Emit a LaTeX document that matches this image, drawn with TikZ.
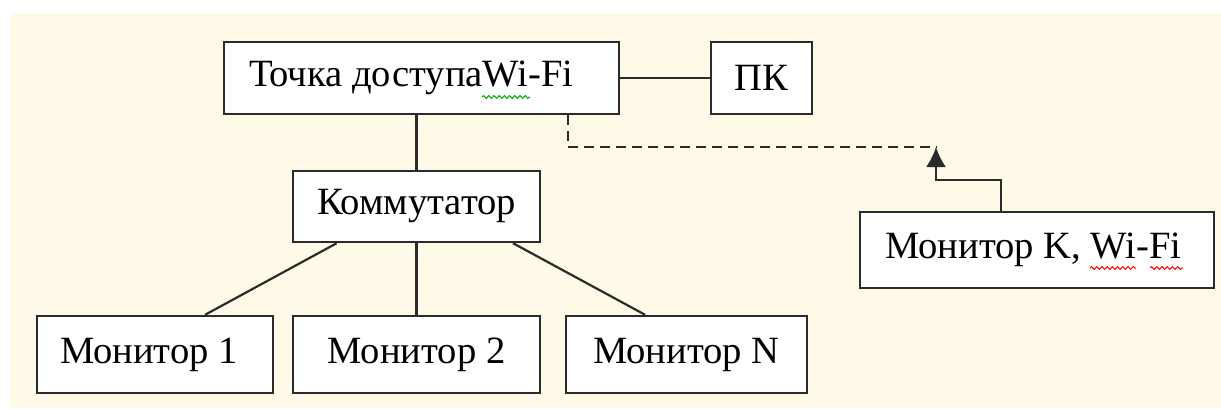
\documentclass[tikz,border=0pt]{standalone}
\usepackage{fontspec}
\setmainfont{Liberation Serif}
\usetikzlibrary{arrows.meta,calc,decorations.pathmorphing}
\definecolor{cream}{HTML}{FFFAE8}
\definecolor{edge}{HTML}{2B2B2B}

\begin{document}
\begin{tikzpicture}[x=0.5pt,y=-0.5pt,
  box/.style={rectangle, draw=edge, line width=1.2pt, fill=white, inner sep=0pt,
    font=\fontsize{19.3}{22}\selectfont},
  wire/.style={draw=edge, line width=1.1pt},
  squig/.style={decorate, decoration={snake, amplitude=0.7pt, segment length=2.6pt},
    line width=0.5pt}]
\useasboundingbox (0,0) rectangle (1221,408);
\fill[cream] (10,13) rectangle (1221,408);
% access point and pc
\node[box, minimum width=197.5pt, minimum height=36pt, text width=172.5pt,
  inner xsep=12.5pt, align=flush left] (ap) at (421.5,78) {Точка доступаWi-Fi};
\node[box, minimum width=50.5pt, minimum height=36pt] (pc) at (761.5,78) {ПК};
\draw[wire](ap) -- (pc);
% switch and wired monitors
\node[box, minimum width=123.5pt, minimum height=35.5pt] (sw) at (416.5,206.5) {Коммутатор};
\draw[wire](sw.north) -- (sw.north |- ap.south);
\node[box, minimum width=118pt, minimum height=38.5pt, text width=95pt, align=flush left,
  inner xsep=11.5pt] (mon1) at (155,354.5) {Монитор 1};
\node[box, minimum width=123.5pt, minimum height=38.5pt] (mon2) at (416.5,354.5) {Монитор 2};
\node[box, minimum width=120.5pt, minimum height=38.5pt] (monN) at (686.5,354.5) {Монитор N};
\draw[wire]($(sw.south west)!.18!(sw.south east)$) -- ($(mon1.north west)!.71!(mon1.north east)$);
\draw[wire](sw.south) -- (mon2.north);
\draw[wire]($(sw.south west)!.887!(sw.south east)$) -- ($(monN.north west)!.33!(monN.north east)$);
% wireless monitor
\node[box, minimum width=177pt, minimum height=38pt, text width=152pt, align=flush left,
  inner xsep=12.5pt] (monK) at (1037,250) {Монитор K, Wi-Fi};
\coordinate (tip) at (936,147);
\coordinate (bend) at (936,180);
\draw[wire, dash pattern=on 5pt off 3pt]($(ap.south west)!.868!(ap.south east)$) |- (tip);
\draw[wire, -{Latex[length=10pt,width=10pt]}]($(monK.north west)!.398!(monK.north east)$) |- (bend) -- (tip);
% spelling marks
\draw[squig, green!65!black] (482,97) -- (530,97);
\draw[squig, red] (1090,268) -- (1136,268);
\draw[squig, red] (1150,268) -- (1183,268);
\end{tikzpicture}
\end{document}
